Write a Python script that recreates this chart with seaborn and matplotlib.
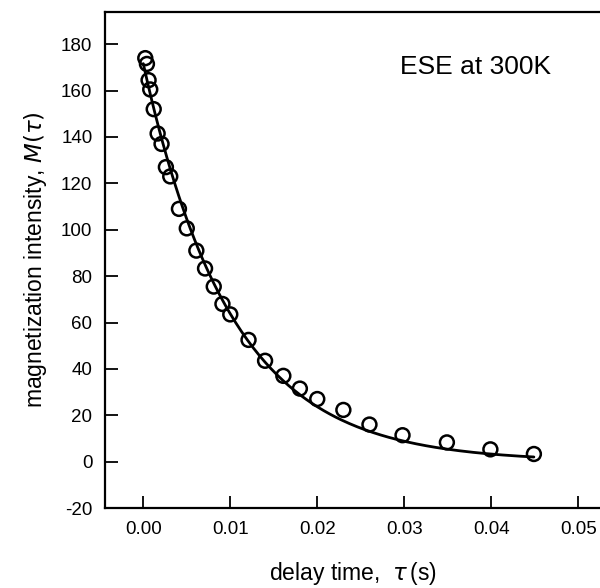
import numpy as np
import pandas as pd
import matplotlib
matplotlib.use("Agg")
import matplotlib.pyplot as plt
import seaborn as sns

# data
delay_time = [0.00023, 0.00042, 0.00061, 0.0008, 0.0012, 0.00165, 0.0021, 0.0026, 0.0031,
              0.0041, 0.005, 0.0061, 0.0071, 0.0081, 0.0091, 0.0100, 0.0121, 0.0140,
              0.0161, 0.0180, 0.0200, 0.0230, 0.0260, 0.0298, 0.0349, 0.0399, 0.0449]
magnetization = [174, 171.5, 164.5, 160.5, 152, 141.5, 137, 127, 123,
                 109, 100.6, 91, 83.3, 75.5, 68, 63.5, 52.5, 43.5,
                 37, 31.5, 27, 22.3, 16, 11.4, 8.3, 5.3, 3.3]
x_ticks = [0.00, 0.01, 0.02, 0.03, 0.04, 0.05]
y_ticks = [-20, 0, 20, 40, 60, 80, 100, 120, 140, 160, 180]
label_text = "ESE at 300K"

df = pd.DataFrame({"t": delay_time, "M": magnetization})

# single exponential fit, weighted log-linear least squares
t = np.array(delay_time)
m = np.array(magnetization)
slope, intercept = np.polyfit(t, np.log(m), 1, w=m)
t_fit = np.linspace(0, max(delay_time), 200)
fit_df = pd.DataFrame({"t": t_fit, "M": np.exp(intercept + slope * t_fit)})

sns.set_style("ticks")
plt.rcParams["font.family"] = ["Liberation Sans", "DejaVu Sans"]
plt.rcParams["mathtext.fontset"] = "dejavusans"
plt.rcParams["axes.unicode_minus"] = False
plt.rcParams["text.color"] = "black"
plt.rcParams["axes.labelcolor"] = "black"

fig = plt.figure(figsize=(6, 5.88), dpi=100)
ax = fig.add_axes([0.175, 0.136, 0.825, 0.844])

sns.lineplot(data=fit_df, x="t", y="M", color="black", linewidth=2, ax=ax)
sns.scatterplot(data=df, x="t", y="M", marker="o", s=100, facecolor="none",
                edgecolor="black", linewidth=1.8, ax=ax, zorder=3)

ax.set_xlim(-0.0044, 0.0525)
ax.set_ylim(-20, 194)
ax.set_xticks(x_ticks)
ax.set_xticklabels([f"{v:.2f}" for v in x_ticks])
ax.set_yticks(y_ticks)
ax.tick_params(direction="in", length=9, width=1.3, labelsize=13.5, pad=9,
               colors="black", labelcolor="black")

for s in ["left", "bottom", "top"]:
    ax.spines[s].set_linewidth(1.6)
    ax.spines[s].set_color("black")
ax.spines["right"].set_visible(False)

ax.set_xlabel(r"delay time,  $\tau\,$(s)", fontsize=16.5, labelpad=16)
ax.set_ylabel(r"magnetization intensity, $M(\tau)$", fontsize=16.5, labelpad=9)

ax.text(0.0295, 170, label_text, fontsize=19, ha="left", va="center")

fig.savefig("out.png", dpi=100)
